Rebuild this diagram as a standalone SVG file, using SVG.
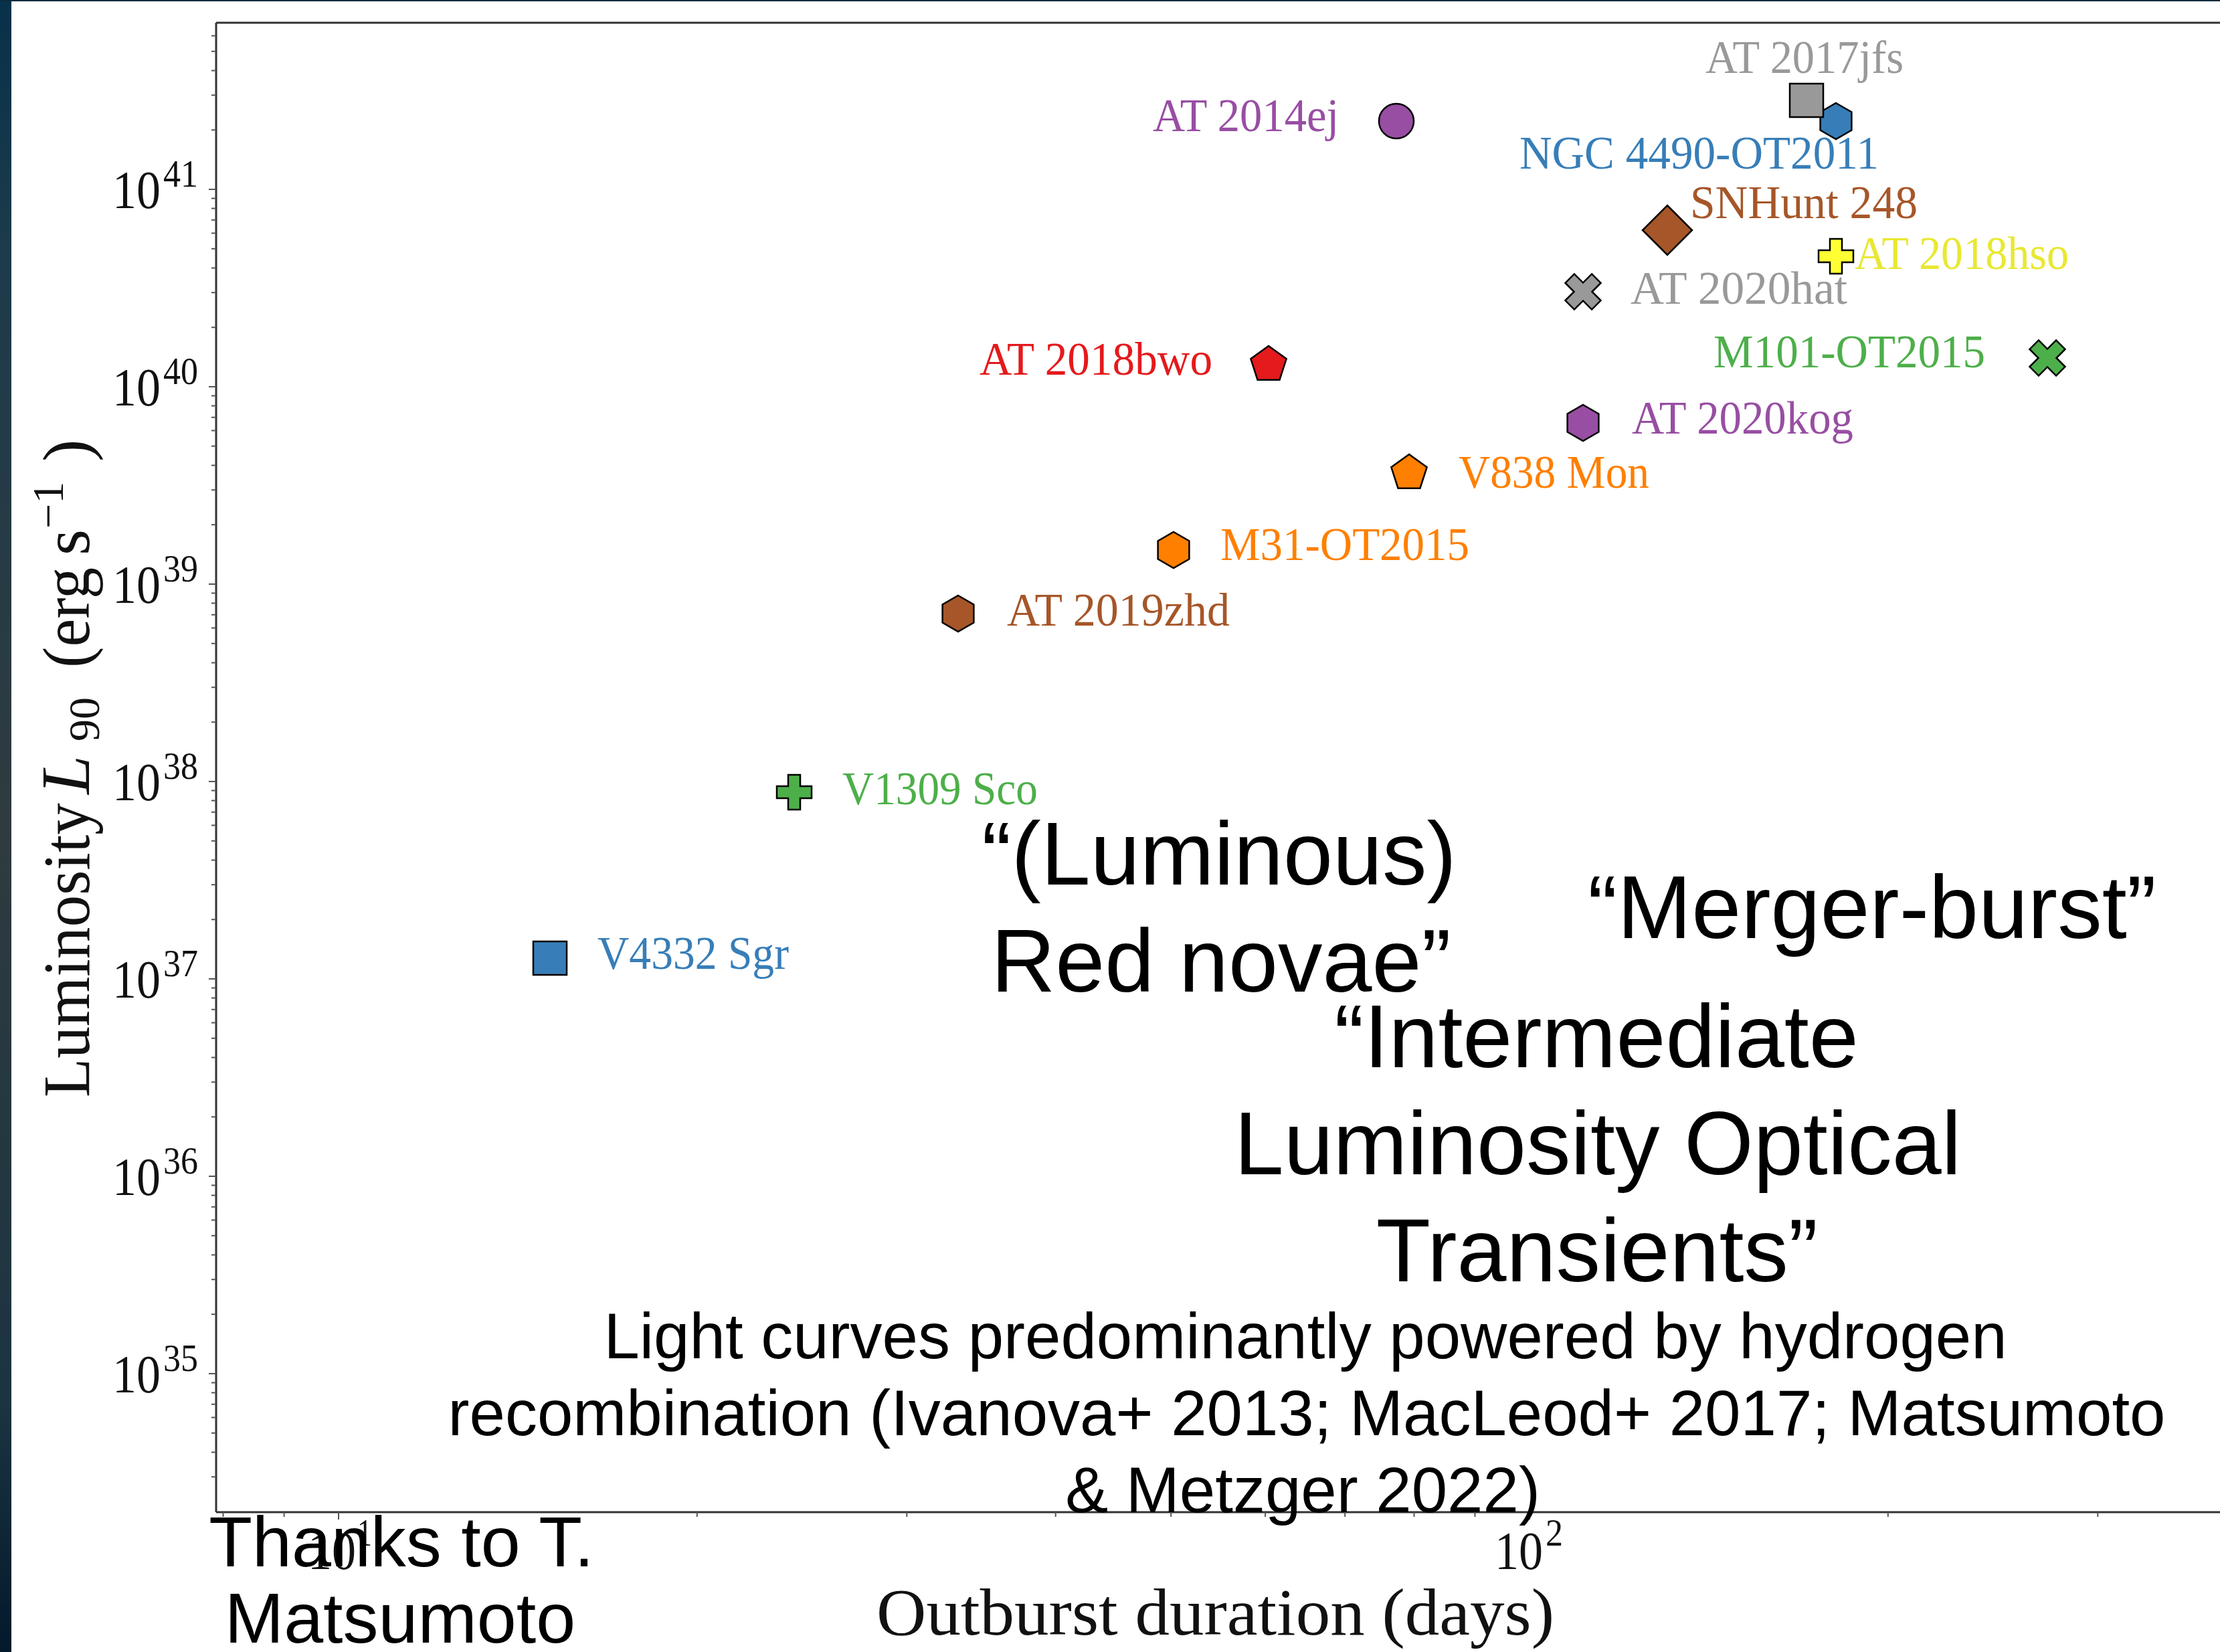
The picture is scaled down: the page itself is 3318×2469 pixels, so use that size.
<svg xmlns="http://www.w3.org/2000/svg" xmlns:xlink="http://www.w3.org/1999/xlink" width="3318" height="2469" viewBox="0 0 3318 2469">
<style>
.lbl{font-family:"Liberation Serif","DejaVu Serif",serif;font-size:70px;}
.tk{font-family:"Liberation Serif","DejaVu Serif",serif;fill:#111;}
.big{font-family:"Liberation Sans",Arial,sans-serif;font-size:133px;fill:#000;text-anchor:middle;}
.par{font-family:"Liberation Sans",Arial,sans-serif;font-size:96px;fill:#000;text-anchor:middle;}
.thx{font-family:"Liberation Sans",Arial,sans-serif;font-size:106px;fill:#000;text-anchor:middle;}
.ax{fill:none;stroke:#333;stroke-width:3;}
.tick{fill:none;stroke:#555;stroke-width:2;}
.mk{stroke:#000;stroke-width:2.5;stroke-linejoin:miter;}
</style>
<defs>
<linearGradient id="strip" x1="0" y1="0" x2="0" y2="1">
<stop offset="0" stop-color="#07314a"/>
<stop offset="0.15" stop-color="#1c3b4b"/>
<stop offset="0.5" stop-color="#2f3b40"/>
<stop offset="0.85" stop-color="#1b3441"/>
<stop offset="1" stop-color="#03192c"/>
</linearGradient>
<polygon id="hex" class="mk" points="0,-27 23.38,-13.5 23.38,13.5 0,27 -23.38,13.5 -23.38,-13.5"/>
<polygon id="pent" class="mk" points="0,-28 26.63,-8.65 16.46,22.65 -16.46,22.65 -26.63,-8.65"/>
<polygon id="dia" class="mk" points="0,-37 37,0 0,37 -37,0"/>
<rect id="sq" class="mk" x="-25" y="-25" width="50" height="50"/>
<circle id="circ" class="mk" r="26"/>
<path id="plus" class="mk" d="M-9,-26H9V-9H26V9H9V26H-9V9H-26V-9H-9Z"/>
<path id="ex" class="mk" transform="rotate(45)" d="M-9.5,-28H9.5V-9.5H28V9.5H9.5V28H-9.5V9.5H-28V-9.5H-9.5Z"/>
</defs>

<rect width="3318" height="2469" fill="#ffffff"/>
<rect x="0" y="0" width="17" height="2469" fill="url(#strip)"/>
<rect x="0" y="0" width="3318" height="2" fill="#0a2c3c"/>

<g id="axes">
<path class="ax" d="M323,34V2260M323,34H3318M323,2260H3318"/>
<path class="tick" d="M312,283h11M312,578h11M312,873h11M312,1168h11M312,1463h11M312,1758h11M312,2053h11"/>
<path class="tick" d="M316,194.2h7M316,142.2h7M316,105.4h7M316,76.8h7M316,53.4h7
M316,489.2h7M316,437.2h7M316,400.4h7M316,371.8h7M316,348.4h7M316,328.7h7M316,311.6h7M316,296.5h7
M316,784.2h7M316,732.2h7M316,695.4h7M316,666.8h7M316,643.4h7M316,623.7h7M316,606.6h7M316,591.5h7
M316,1079.2h7M316,1027.2h7M316,990.4h7M316,961.8h7M316,938.4h7M316,918.7h7M316,901.6h7M316,886.5h7
M316,1374.2h7M316,1322.2h7M316,1285.4h7M316,1256.8h7M316,1233.4h7M316,1213.7h7M316,1196.6h7M316,1181.5h7
M316,1669.2h7M316,1617.2h7M316,1580.4h7M316,1551.8h7M316,1528.4h7M316,1508.7h7M316,1491.6h7M316,1476.5h7
M316,1964.2h7M316,1912.2h7M316,1875.4h7M316,1846.8h7M316,1823.4h7M316,1803.7h7M316,1786.6h7M316,1771.5h7
M316,2207.2h7M316,2170.4h7M316,2141.8h7M316,2118.4h7M316,2098.7h7M316,2081.6h7M316,2066.5h7"/>
<path class="tick" d="M506,2260v11M2286,2260v11"/>
<path class="tick" d="M333.5,2260v7M424.6,2260v7M1041.8,2260v7M1355.3,2260v7M1577.7,2260v7M1750.2,2260v7M1891.1,2260v7M2010.2,2260v7M2113.5,2260v7M2204.5,2260v7M2821.8,2260v7M3135.3,2260v7"/>
</g>

<g id="ticklabels">
<text class="tk" x="168" y="311" font-size="80" textLength="72" lengthAdjust="spacingAndGlyphs">10</text><text class="tk" x="244" y="279" font-size="56" textLength="52" lengthAdjust="spacingAndGlyphs">41</text>
<text class="tk" x="168" y="606" font-size="80" textLength="72" lengthAdjust="spacingAndGlyphs">10</text><text class="tk" x="244" y="574" font-size="56" textLength="52" lengthAdjust="spacingAndGlyphs">40</text>
<text class="tk" x="168" y="901" font-size="80" textLength="72" lengthAdjust="spacingAndGlyphs">10</text><text class="tk" x="244" y="869" font-size="56" textLength="52" lengthAdjust="spacingAndGlyphs">39</text>
<text class="tk" x="168" y="1196" font-size="80" textLength="72" lengthAdjust="spacingAndGlyphs">10</text><text class="tk" x="244" y="1164" font-size="56" textLength="52" lengthAdjust="spacingAndGlyphs">38</text>
<text class="tk" x="168" y="1491" font-size="80" textLength="72" lengthAdjust="spacingAndGlyphs">10</text><text class="tk" x="244" y="1459" font-size="56" textLength="52" lengthAdjust="spacingAndGlyphs">37</text>
<text class="tk" x="168" y="1786" font-size="80" textLength="72" lengthAdjust="spacingAndGlyphs">10</text><text class="tk" x="244" y="1754" font-size="56" textLength="52" lengthAdjust="spacingAndGlyphs">36</text>
<text class="tk" x="168" y="2081" font-size="80" textLength="72" lengthAdjust="spacingAndGlyphs">10</text><text class="tk" x="244" y="2049" font-size="56" textLength="52" lengthAdjust="spacingAndGlyphs">35</text>
<text class="tk" x="460" y="2345" font-size="80" textLength="72" lengthAdjust="spacingAndGlyphs">10</text><text class="tk" x="534" y="2310" font-size="56" textLength="22" lengthAdjust="spacingAndGlyphs">1</text>
<text class="tk" x="2234" y="2345" font-size="80" textLength="72" lengthAdjust="spacingAndGlyphs">10</text><text class="tk" x="2310" y="2310" font-size="56" textLength="26" lengthAdjust="spacingAndGlyphs">2</text>
</g>

<g id="xlabel">
<text class="tk" x="1310" y="2443" font-size="100" textLength="1013" lengthAdjust="spacingAndGlyphs" fill="#1a1a1a">Outburst duration (days)</text>
</g>

<g id="ylabel" transform="translate(133,0) rotate(-90)">
<text class="tk" x="-1640" y="0" font-size="100" textLength="440" lengthAdjust="spacingAndGlyphs">Luminosity</text>
<text class="tk" x="-1187" y="0" font-size="104" font-style="italic">L</text>
<text class="tk" x="-1108" y="15" font-size="66">90</text>
<text class="tk" x="-998" y="0" font-size="100" textLength="150" lengthAdjust="spacingAndGlyphs">(erg</text>
<text class="tk" x="-830" y="0" font-size="100">s</text>
<text class="tk" x="-790" y="-39" font-size="66">−1</text>
<text class="tk" x="-690" y="0" font-size="100">)</text>
</g>

<g id="n-AT2014ej"><use xlink:href="#circ" x="2087" y="181" fill="#984ea3"/><text class="lbl" x="1723" y="196" fill="#984ea3" textLength="278" lengthAdjust="spacingAndGlyphs">AT 2014ej</text></g>
<g id="n-NGC4490"><use xlink:href="#hex" x="2744" y="181" fill="#377eb8"/><text class="lbl" x="2271" y="252" fill="#377eb8" textLength="537" lengthAdjust="spacingAndGlyphs">NGC 4490-OT2011</text></g>
<g id="n-AT2017jfs"><use xlink:href="#sq" x="2700" y="150" fill="#999999"/><text class="lbl" x="2549" y="109" fill="#999999" textLength="296" lengthAdjust="spacingAndGlyphs">AT 2017jfs</text></g>
<g id="n-SNHunt248"><use xlink:href="#dia" x="2492" y="344" fill="#a65628"/><text class="lbl" x="2526" y="326" fill="#a65628" textLength="340" lengthAdjust="spacingAndGlyphs">SNHunt 248</text></g>
<g id="n-AT2018hso"><use xlink:href="#plus" x="2744" y="383" fill="#ffff33"/><text class="lbl" x="2772" y="402" fill="#e8e833" textLength="320" lengthAdjust="spacingAndGlyphs">AT 2018hso</text></g>
<g id="n-AT2020hat"><use xlink:href="#ex" x="2366" y="436" fill="#999999"/><text class="lbl" x="2437" y="454" fill="#999999" textLength="324" lengthAdjust="spacingAndGlyphs">AT 2020hat</text></g>
<g id="n-M101OT2015"><use xlink:href="#ex" x="3060" y="535" fill="#4daf4a"/><text class="lbl" x="2561" y="549" fill="#4daf4a" textLength="406" lengthAdjust="spacingAndGlyphs">M101-OT2015</text></g>
<g id="n-AT2018bwo"><use xlink:href="#pent" x="1896" y="545" fill="#e41a1c"/><text class="lbl" x="1464" y="560" fill="#e41a1c" textLength="348" lengthAdjust="spacingAndGlyphs">AT 2018bwo</text></g>
<g id="n-AT2020kog"><use xlink:href="#hex" x="2366" y="632" fill="#984ea3"/><text class="lbl" x="2439" y="648" fill="#984ea3" textLength="331" lengthAdjust="spacingAndGlyphs">AT 2020kog</text></g>
<g id="n-V838Mon"><use xlink:href="#pent" x="2106" y="707" fill="#ff7f00"/><text class="lbl" x="2180" y="729" fill="#ff7f00" textLength="285" lengthAdjust="spacingAndGlyphs">V838 Mon</text></g>
<g id="n-M31OT2015"><use xlink:href="#hex" x="1754" y="822" fill="#ff7f00"/><text class="lbl" x="1824" y="837" fill="#ff7f00" textLength="372" lengthAdjust="spacingAndGlyphs">M31-OT2015</text></g>
<g id="n-AT2019zhd"><use xlink:href="#hex" x="1432" y="917" fill="#a65628"/><text class="lbl" x="1505" y="935" fill="#a65628" textLength="333" lengthAdjust="spacingAndGlyphs">AT 2019zhd</text></g>
<g id="n-V1309Sco"><use xlink:href="#plus" x="1187" y="1184" fill="#4daf4a"/><text class="lbl" x="1259" y="1202" fill="#4daf4a" textLength="292" lengthAdjust="spacingAndGlyphs">V1309 Sco</text></g>
<g id="n-V4332Sgr"><use xlink:href="#sq" x="822" y="1432" fill="#377eb8"/><text class="lbl" x="893" y="1448" fill="#377eb8" textLength="286" lengthAdjust="spacingAndGlyphs">V4332 Sgr</text></g>

<g id="annotations">
<text class="big" x="1822" y="1322">“(Luminous)</text>
<text class="big" x="1825" y="1482">Red novae”</text>
<text class="big" x="2798" y="1402">“Merger-burst”</text>
<text class="big" x="2386" y="1595">“Intermediate</text>
<text class="big" x="2388" y="1755">Luminosity Optical</text>
<text class="big" x="2387" y="1915">Transients”</text>
<text class="par" x="1951" y="2030">Light curves predominantly powered by hydrogen</text>
<text class="par" x="1953" y="2145">recombination (Ivanova+ 2013; MacLeod+ 2017; Matsumoto</text>
<text class="par" x="1947" y="2260">&amp; Metzger 2022)</text>
<text class="thx" x="600" y="2341">Thanks to T.</text>
<text class="thx" x="598" y="2455">Matsumoto</text>
</g>
</svg>
